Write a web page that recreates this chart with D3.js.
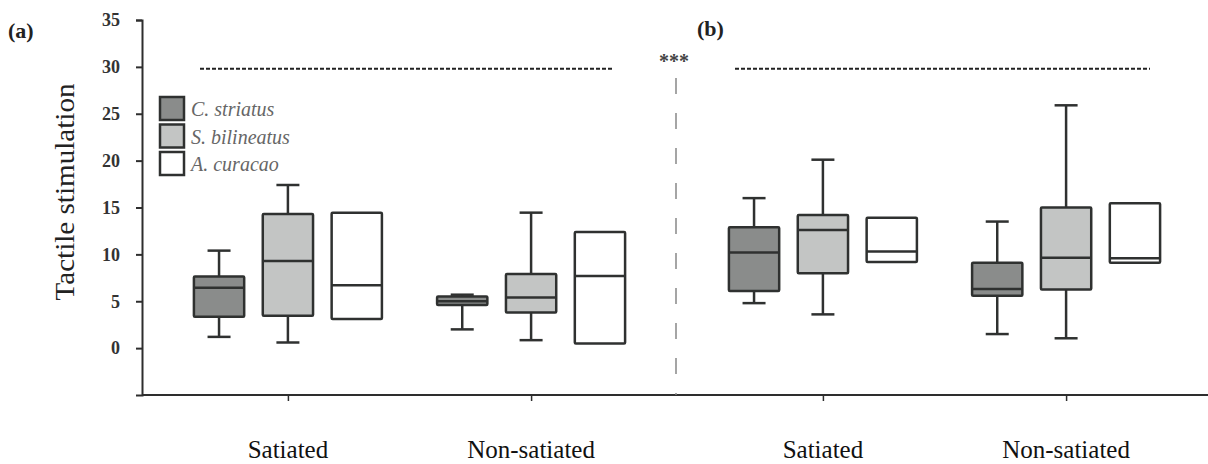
<!DOCTYPE html>
<html><head><meta charset="utf-8">
<script src="https://cdn.jsdelivr.net/npm/d3@7"></script>
<style>html,body{margin:0;padding:0;background:#fff;}svg{display:block;}</style>
</head><body>
<svg id="c" width="1208" height="464"></svg>
<script>
// ---- data ----
const panels = ["(a)", "(b)"];
const conditions = ["Satiated", "Non-satiated"];
const species = ["C. striatus", "S. bilineatus", "A. curacao"];
const speciesFill = ["#8a8c8b", "#c3c5c4", "#ffffff"];
// each entry: [panel, condition, species, whiskerLow, q1, median, q3, whiskerHigh] (null = no whisker)
const boxStats = [
  ["(a)", "Satiated", "C. striatus", 1.2, 3.35, 6.45, 7.65, 10.4],
  ["(a)", "Satiated", "S. bilineatus", 0.6, 3.45, 9.3, 14.3, 17.4],
  ["(a)", "Satiated", "A. curacao", null, 3.1, 6.7, 14.45, null],
  ["(a)", "Non-satiated", "C. striatus", 2.0, 4.6, 5.0, 5.5, 5.7],
  ["(a)", "Non-satiated", "S. bilineatus", 0.85, 3.8, 5.4, 7.9, 14.45],
  ["(a)", "Non-satiated", "A. curacao", null, 0.5, 7.7, 12.4, null],
  ["(b)", "Satiated", "C. striatus", 4.8, 6.1, 10.2, 12.9, 16.0],
  ["(b)", "Satiated", "S. bilineatus", 3.6, 8.0, 12.6, 14.2, 20.1],
  ["(b)", "Satiated", "A. curacao", null, 9.2, 10.3, 13.9, null],
  ["(b)", "Non-satiated", "C. striatus", 1.5, 5.6, 6.3, 9.1, 13.5],
  ["(b)", "Non-satiated", "S. bilineatus", 1.05, 6.25, 9.65, 15.0, 25.9],
  ["(b)", "Non-satiated", "A. curacao", null, 9.1, 9.6, 15.45, null]
];
const yTicks = [0, 5, 10, 15, 20, 25, 30, 35];
const yDomain = [-5, 35];
const sigLevel = 29.8;
const sigLabel = "***";
const yTitle = "Tactile stimulation";

// ---- layout ----
const svg = d3.select("#c");
const serif = "'Liberation Serif','Times New Roman',serif";
const axisColor = "#2e2e2e";
const mLeft = 142, mBottom = 395, mTop = 20;

const y = d3.scaleLinear().domain(yDomain).range([mBottom, mTop]);
const xPanel = d3.scaleBand().domain(panels).range([mLeft, 1212]);
const xCond = d3.scalePoint().domain(conditions).range([0, xPanel.bandwidth()]).padding(0.6);
const xSpec = d3.scaleBand().domain(species).range([-94, 94]).paddingInner(0.27);
const cx = (p, c) => xPanel(p) + xCond(c);

// y axis
const yAxis = svg.append("g").attr("transform", `translate(${mLeft},0)`)
  .call(d3.axisLeft(y).tickValues(yTicks).tickSize(6).tickSizeOuter(6).tickPadding(16));
yAxis.select(".domain").attr("stroke", axisColor).attr("stroke-width", 2);
yAxis.selectAll(".tick line").attr("stroke", axisColor).attr("stroke-width", 2);
yAxis.selectAll(".tick text").attr("font-family", serif).attr("font-size", 18)
  .attr("font-weight", "bold").attr("fill", "#333");

// x axis (per panel, ticks at conditions)
svg.append("line").attr("x1", mLeft).attr("x2", 1208).attr("y1", mBottom).attr("y2", mBottom)
  .attr("stroke", axisColor).attr("stroke-width", 2);
panels.forEach(p => {
  const g = svg.append("g").attr("transform", `translate(${xPanel(p)},${mBottom})`)
    .call(d3.axisBottom(xCond).tickSize(6).tickSizeOuter(0).tickFormat(""));
  g.select(".domain").remove();
  g.selectAll(".tick line").attr("stroke", axisColor).attr("stroke-width", 1.5);
  conditions.forEach(c => {
    svg.append("text").attr("x", cx(p, c)).attr("y", 458).attr("text-anchor", "middle")
      .attr("font-family", serif).attr("font-size", 25).attr("fill", "#111").text(c);
  });
  // panel label
  svg.append("text").attr("x", p === "(a)" ? 8 : 697).attr("y", p === "(a)" ? 38 : 36)
    .attr("font-family", serif).attr("font-size", 22).attr("font-weight", "bold").attr("fill", "#222").text(p);
  // significance dashed line
  const pr = xPanel(p);
  svg.append("line")
    .attr("x1", p === "(a)" ? 200 : pr + 58).attr("x2", p === "(a)" ? 613 : pr + 473)
    .attr("y1", y(sigLevel)).attr("y2", y(sigLevel))
    .attr("stroke", "#222").attr("stroke-width", 2).attr("stroke-dasharray", "4,2");
});

// divider
const divX = xPanel("(b)") - 1;
svg.append("line").attr("x1", divX).attr("x2", divX).attr("y1", 78).attr("y2", mBottom)
  .attr("stroke", "#888").attr("stroke-width", 1.5).attr("stroke-dasharray", "16,19");
svg.append("text").attr("x", divX - 2).attr("y", 68).attr("text-anchor", "middle")
  .attr("font-family", serif).attr("font-size", 20).attr("font-weight", "bold").attr("fill", "#444").text(sigLabel);

// y title
svg.append("text").attr("transform", `translate(74,192) rotate(-90)`).attr("text-anchor", "middle")
  .attr("font-family", serif).attr("font-size", 28).attr("fill", "#222")
  .attr("textLength", 217).attr("lengthAdjust", "spacingAndGlyphs").text(yTitle);

// boxes
const bw = xSpec.bandwidth();
const capW = 23;
boxStats.forEach(d => {
  const [p, c, s, wl, q1, med, q3, wh] = d;
  const x0 = cx(p, c) + xSpec(s);
  const xm = x0 + bw / 2;
  const g = svg.append("g");
  const stroke = "#2f3130";
  if (wh !== null) {
    g.append("line").attr("x1", xm).attr("x2", xm).attr("y1", y(q3)).attr("y2", y(wh)).attr("stroke", stroke).attr("stroke-width", 2.5);
    g.append("line").attr("x1", xm - capW / 2).attr("x2", xm + capW / 2).attr("y1", y(wh)).attr("y2", y(wh)).attr("stroke", stroke).attr("stroke-width", 2.5);
  }
  if (wl !== null) {
    g.append("line").attr("x1", xm).attr("x2", xm).attr("y1", y(q1)).attr("y2", y(wl)).attr("stroke", stroke).attr("stroke-width", 2.5);
    g.append("line").attr("x1", xm - capW / 2).attr("x2", xm + capW / 2).attr("y1", y(wl)).attr("y2", y(wl)).attr("stroke", stroke).attr("stroke-width", 2.5);
  }
  g.append("rect").attr("x", x0).attr("y", y(q3)).attr("width", bw).attr("height", y(q1) - y(q3))
    .attr("fill", speciesFill[species.indexOf(s)]).attr("stroke", stroke).attr("stroke-width", 2.5).attr("rx", 1);
  g.append("line").attr("x1", x0).attr("x2", x0 + bw).attr("y1", y(med)).attr("y2", y(med)).attr("stroke", stroke).attr("stroke-width", 2.5);
});

// legend
species.forEach((s, i) => {
  const ly = 97 + i * 27.5;
  svg.append("rect").attr("x", 160).attr("y", ly).attr("width", 24).attr("height", 23)
    .attr("fill", speciesFill[i]).attr("stroke", "#2f3130").attr("stroke-width", 2.5);
  svg.append("text").attr("x", 191).attr("y", ly + 19).attr("font-family", serif).attr("font-style", "italic")
    .attr("font-size", 20).attr("fill", "#666").text(s);
});
</script>
</body></html>
